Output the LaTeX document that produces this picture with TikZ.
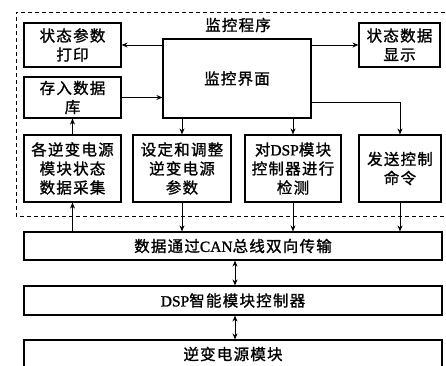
\documentclass[tikz,border=0pt]{standalone}
\usepackage{fontspec}
\setmainfont{Liberation Serif}[FakeBold=1.2]
\newfontfamily\cjk[LetterSpace=8,FakeBold=1.2]{Noto Sans CJK SC}
\usetikzlibrary{arrows.meta}
\begin{document}
\begin{tikzpicture}[x=1pt,y=-1pt,
  box/.style={draw,line width=1.2pt,inner sep=0pt,align=center,font=\cjk\fontsize{15.5}{19}\selectfont},
  lbl/.style={inner sep=0pt,font=\cjk\fontsize{15.5}{19}\selectfont},
  arr/.style={-{Stealth[length=6pt,width=5pt]},line width=0.8pt},
  darr/.style={{Stealth[length=6pt,width=5pt]}-{Stealth[length=6pt,width=5pt]},line width=0.8pt}]
\useasboundingbox (0,0) rectangle (446,365);
% dashed frame (right side lies outside the picture)
\draw[dash pattern=on 4pt off 3pt,line width=0.8pt] (452,12) -- (16,12) -- (16,216) -- (452,216);
\node[lbl] (title) at (238,25) {监控程序};
% boxes
\node[box,minimum width=97pt,minimum height=44pt] (print) at (72.5,45) {状态参数\\打印};
\node[box,minimum width=97pt,minimum height=41pt] (store) at (72.5,97.5) {存入数据\\库};
\node[box,minimum width=148pt,minimum height=79pt] (ui) at (237,78.5) {监控界面};
\node[box,minimum width=81pt,minimum height=44pt] (disp) at (399.5,45) {状态数据\\显示};
\node[box,minimum width=97pt,minimum height=67pt] (collect) at (72.5,168.5) {各逆变电源\\模块状态\\数据采集};
\node[box,minimum width=98pt,minimum height=67pt] (set) at (182,168.5) {设定和调整\\逆变电源\\参数};
\node[box,minimum width=96pt,minimum height=67pt] (check) at (293,168.5) {对{\rmfamily DSP}模块\\控制器进行\\检测};
\node[box,minimum width=82pt,minimum height=67pt] (send) at (400,168.5) {发送控制\\命令};
\node[box,minimum width=418pt,minimum height=28pt] (can) at (233,246) {数据通过{\rmfamily CAN}总线双向传输};
\node[box,minimum width=418pt,minimum height=29pt] (dspc) at (233,300.5) {{\rmfamily DSP}智能模块控制器};
\node[box,minimum width=418pt,minimum height=28pt] (inv) at (233,354) {逆变电源模块};
% connectors
\draw[arr] (ui.west |- print.east) -- (print.east);
\draw[arr] (store.east) -- (store.east -| ui.west);
\draw[arr] (collect.north) -- (store.south);
\draw[arr] (set.north |- ui.south) -- (set.north);
\draw[arr] (check.north |- ui.south) -- (check.north);
\draw[arr] (ui.east |- disp.west) -- (disp.west);
\draw[arr] ([yshift=-23.5pt]ui.east) -| (send.north);
\draw[arr] (collect.south |- can.north) -- (collect.south);
\draw[arr] (set.south) -- (set.south |- can.north);
\draw[arr] (check.south) -- (check.south |- can.north);
\draw[arr] (send.south) -- (send.south |- can.north);
\draw[darr] ([xshift=2pt]can.south) -- ([xshift=2pt]can.south |- dspc.north);
\draw[darr] ([xshift=2pt]dspc.south) -- ([xshift=2pt]dspc.south |- inv.north);
\end{tikzpicture}
\end{document}
